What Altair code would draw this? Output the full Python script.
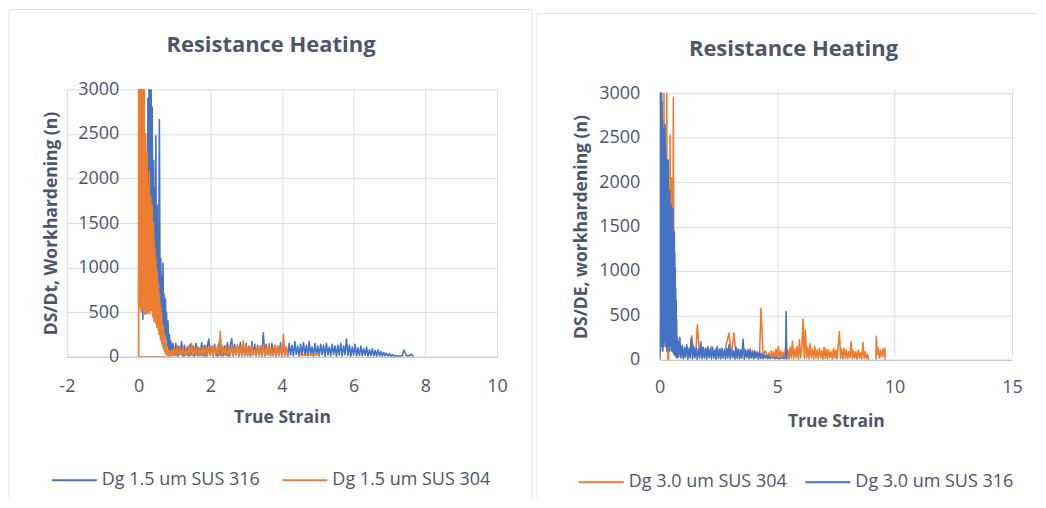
import altair as alt
import pandas as pd

TITLE = "Resistance Heating"
FONT = "Open Sans"
TEXT = "#4d5668"
GRID = "#d9dce3"
AXIS = "#bfc3cc"
FRAME = "#e0e2e6"
BLUE = "#4472C4"
ORANGE = "#ED7D31"

Y_TICKS = [0, 500, 1000, 1500, 2000, 2500, 3000]

# ---------------- Left chart: Dg 1.5 um ----------------
L_NAMES = ["Dg 1.5 um SUS 316", "Dg 1.5 um SUS 304"]
L_X_TICKS = [-2, 0, 2, 4, 6, 8, 10]

# strain readings of the tail region (left chart)
L_TAIL_X = [1.00,1.04,1.08,1.12,1.16,1.20,1.24,1.28,1.32,1.36,
            1.40,1.44,1.48,1.52,1.56,1.60,1.64,1.68,1.72,1.76,
            1.80,1.84,1.88,1.92,1.96,2.00,2.04,2.08,2.12,2.16,
            2.20,2.24,2.28,2.32,2.36,2.40,2.44,2.48,2.52,2.56,
            2.60,2.64,2.68,2.72,2.76,2.80,2.84,2.88,2.92,2.96,
            3.00,3.04,3.08,3.12,3.16,3.20,3.24,3.28,3.32,3.36,
            3.40,3.44,3.48,3.52,3.56,3.60,3.64,3.68,3.72,3.76,
            3.80,3.84,3.88,3.92,3.96,4.00,4.04,4.08,4.12,4.16,
            4.20,4.24,4.28,4.32,4.36,4.40,4.44,4.48,4.52,4.56,
            4.60,4.64,4.68,4.72,4.76,4.80,4.84,4.88,4.92,4.96,
            5.00,5.04,5.08,5.12,5.16,5.20,5.24,5.28,5.32,5.36,
            5.40,5.44,5.48,5.52,5.56,5.60,5.64,5.68,5.72,5.76,
            5.80,5.84,5.88,5.92,5.96,6.00,6.04,6.08,6.12,6.16,
            6.20,6.24,6.28,6.32,6.36,6.40,6.44,6.48,6.52,6.56,
            6.60,6.64,6.68,6.72,6.76,6.80,6.84,6.88,6.92,6.96,
            7.00,7.04,7.08,7.12,7.16,7.20,7.24,7.28,7.32,7.36,
            7.40,7.44,7.48,7.52,7.56,7.60,7.64,7.68]

L316_head_x = [0.00,0.02,0.03,0.05,0.06,0.08,0.09,0.11,0.12,0.14,0.15,0.17,0.18,0.20,0.21,0.23,0.24,0.26,0.27,0.29,
               0.30,0.31,0.33,0.35,0.36,0.38,0.40,0.42,0.43,0.45,0.47,0.48,0.50,0.52,0.53,0.55,0.56,0.58,0.60,0.62,
               0.63,0.65,0.66,0.68,0.70,0.71,0.73,0.75,0.77,0.78,0.80,0.82,0.84,0.86,0.88,0.90,0.93,0.96]
L316_head_y = [600,2200,900,3000,560,2600,700,3000,420,1900,600,2400,480,1800,700,2300,600,2900,800,3000,
               1500,3000,1200,3000,900,2800,1100,2200,800,1900,700,2480,900,1700,600,1400,700,2660,600,1100,
               450,900,400,1050,350,700,250,650,200,500,120,400,80,250,60,180,40,150]
L316_tail_y = [20,150,10,120,30,170,5,130,20,110,
               10,140,25,120,5,150,15,100,20,160,
               10,130,5,110,200,20,120,10,140,25,
               5,150,20,130,10,120,15,160,5,130,
               205,10,140,25,120,5,160,20,130,10,
               150,15,120,5,170,20,140,10,130,25,
               120,5,270,15,140,20,110,10,150,25,
               130,5,120,20,160,10,140,25,110,5,
               150,20,130,10,170,25,120,5,140,15,
               160,20,130,10,170,25,110,5,150,20,
               120,10,140,25,130,5,150,20,110,10,
               140,25,120,5,130,20,150,10,120,25,
               200,15,130,5,110,20,140,10,100,15,
               120,10,90,20,110,5,80,15,90,10,
               70,5,80,10,60,5,50,10,40,5,
               35,5,25,3,15,5,10,8,10,12,
               75,40,10,15,10,30,15,0]

L304_head_x = [0.78,0.00,0.00,
               0.01,0.02,0.03,0.04,0.05,0.06,0.07,0.08,0.09,0.10,0.11,0.12,0.13,0.14,0.15,0.16,0.17,0.18,0.19,0.20,
               0.21,0.22,0.23,0.24,0.25,0.26,0.27,0.28,0.29,0.30,0.31,0.32,0.33,0.34,0.35,0.36,0.37,0.38,0.39,0.40,
               0.41,0.42,0.43,0.44,0.45,0.46,0.47,0.48,0.49,0.50,0.51,0.52,0.53,0.54,0.55,0.56,0.57,0.58,0.59,0.60,
               0.61,0.62,0.63,0.64,0.65,0.66,0.67,0.68,0.69,0.70,0.71,0.72,0.73,0.74,0.75,0.76,0.77,0.78,0.79,0.80,
               0.82,0.84,0.86,0.88,0.90,0.93,0.96]
L304_head_y = [0,0,3000,
               600,3000,550,3000,650,3000,500,3000,700,3000,550,3000,600,2800,500,3000,650,2200,500,2500,
               600,1900,480,2300,700,1700,500,1900,650,2080,480,1600,700,1800,520,1500,600,1700,450,1400,
               550,1500,400,1300,500,1200,380,1100,420,1000,330,950,350,850,300,800,250,700,260,600,
               200,550,180,480,150,400,120,350,100,300,80,250,60,200,40,160,30,120,20,90,
               10,70,5,60,10,80,5]
L304_tail_y = [100,10,120,5,90,20,110,5,80,15,
               120,5,150,10,100,20,120,5,90,15,
               110,5,130,10,100,20,120,5,110,15,
               120,10,285,5,110,20,130,10,90,15,
               120,5,100,20,140,10,110,5,180,15,
               130,10,110,5,130,20,90,10,120,5,
               100,15,140,5,110,20,150,10,90,5,
               130,20,120,10,110,5,250,10,110,20]
L304_end_x = [4.18]
L304_end_y = [0]
L304b_x = [4.48,4.50,4.56,4.95,5.02,5.04]
L304b_y = [0,30,20,20,30,0]

# ---------------- Right chart: Dg 3.0 um ----------------
R_NAMES = ["Dg 3.0 um SUS 304", "Dg 3.0 um SUS 316"]
R_X_TICKS = [0, 5, 10, 15]

R304_head_x = [0.00,0.02,0.04,0.06,0.08,0.10,0.12,0.14,0.16,0.18,0.20,0.22,0.24,0.26,0.28,0.30,0.32,0.34,0.38,0.40,
               0.42,0.44,0.46,0.48,0.50,0.52,0.54,0.56,0.58,0.60,0.62,0.64,0.66,0.68,0.70,0.72,0.76,0.80,0.85,0.88,
               0.95,1.05,1.15,1.25,1.36,1.45,1.55,1.60,1.70,1.80,1.90,2.00,2.10,2.20,2.30,2.40,2.50,2.60,2.70,2.80,
               2.95,3.05,3.16,3.25,3.35,3.45,3.55,3.65,3.75,3.85,3.95,4.05,4.15,4.25,4.31,4.40,4.50]
R304_head_y = [0,500,200,520,300,450,100,500,250,3000,400,1800,300,2600,500,3000,200,0,0,1500,
               800,2530,1300,1700,2050,1200,1600,900,2950,700,1000,300,500,100,250,50,120,30,250,40,
               120,30,150,40,270,60,130,393,50,140,30,120,60,150,40,130,50,120,30,140,
               300,50,300,40,120,30,150,50,120,30,110,20,90,40,580,60,100]
R304_tail_x = [4.60,4.65,4.70,4.75,4.80,4.85,4.90,4.95,5.00,5.05,
               5.10,5.15,5.20,5.25,5.30,5.35,5.40,5.45,5.50,5.55,
               5.60,5.65,5.70,5.75,5.80,5.85,5.90,5.95,6.00,6.05,
               6.10,6.15,6.20,6.25,6.30,6.35,6.40,6.45,6.50,6.55,
               6.60,6.65,6.70,6.75,6.80,6.85,6.90,6.95,7.00,7.05,
               7.10,7.15,7.20,7.25,7.30,7.35,7.40,7.45,7.50,7.55,
               7.60,7.65,7.70,7.75,7.80,7.85,7.90,7.95,8.00,8.05,
               8.10,8.15,8.20,8.25,8.30,8.35,8.40,8.45,8.50,8.55,
               8.60,8.65,8.70,8.75,8.80,8.85,8.90]
R304_tail_y = [20,80,10,100,30,90,5,120,20,150,
               10,100,25,90,5,130,20,110,10,140,
               20,210,10,120,30,150,5,225,20,130,
               460,15,335,20,140,10,180,25,120,5,
               150,20,110,10,130,25,100,5,140,15,
               120,10,110,25,90,5,130,20,110,10,
               170,318,15,120,5,130,20,110,10,90,
               25,205,10,100,20,90,5,110,15,80,
               10,195,20,90,10,60,0]
R304b_x = [9.20,9.22,9.26,9.30,9.35,9.40,9.45,9.50,9.55,9.58,9.60]
R304b_y = [0,265,60,130,20,110,30,120,40,130,0]

R316_head_x = [0.00,0.00,
               0.01,0.02,0.03,0.04,0.05,0.06,0.07,0.08,0.09,0.10,0.11,0.12,0.13,0.14,0.15,0.16,0.17,0.18,0.19,0.20,
               0.21,0.22,0.23,0.24,0.25,0.26,0.27,0.28,0.29,0.30,0.31,0.32,0.33,0.34,0.35,0.36,0.37,0.38,0.39,0.40,
               0.41,0.42,0.43,0.44,0.45,0.46,0.47,0.48,0.49,0.50,0.51,0.52,0.53,0.54,0.55,0.56,0.57,0.58,0.59,0.60,
               0.61,0.62,0.63,0.64,0.65,0.66,0.67,0.68,0.69,0.70,0.71,0.72,0.73,0.74,0.76,0.78,0.80,0.83]
R316_head_y = [0,3000,
               200,3000,100,3000,300,3000,150,3000,400,2900,200,2700,100,2500,300,2600,150,2400,400,2550,
               200,2650,300,2400,150,2300,350,2200,200,2250,100,2100,300,2000,150,2250,400,1900,200,1800,
               100,1900,300,1700,150,1600,250,1750,100,1500,200,1700,100,1400,150,1700,80,1300,120,1100,
               60,1440,90,1200,50,1040,80,800,40,670,30,450,20,255,30,200,40,220]
R316_mid_x = [0.85,0.90,0.95,1.00,1.05,1.10,1.15,1.20,1.25,1.30,
              1.35,1.40,1.45,1.50,1.55,1.60,1.65,1.70,1.75,1.80,
              1.85,1.90,1.95,2.00,2.05,2.10,2.15,2.20,2.25,2.30,
              2.35,2.40,2.45,2.50,2.55,2.60,2.65,2.70,2.75,2.80,
              2.85,2.90,2.95,3.00,3.05,3.10,3.15,3.20,3.25,3.30,
              3.35,3.40,3.45,3.50,3.55,3.60,3.65,3.70,3.75,3.80,
              3.85,3.90,3.95,4.00,4.05,4.10,4.15,4.20,4.25,4.30,
              4.35,4.40,4.45,4.50,4.55,4.60,4.65]
R316_mid_y = [247,20,160,10,140,30,170,5,130,20,
              240,10,150,25,130,5,120,20,200,10,
              140,20,130,5,150,25,120,10,140,20,
              110,5,150,15,120,10,130,20,110,5,
              130,20,170,10,120,25,100,5,140,15,
              120,10,110,20,230,5,110,25,100,10,
              120,20,90,10,100,25,80,5,90,15,
              70,10,60,20,50,10,40]
R316_tail_x = [4.75,4.90,5.05,5.20,5.36,5.38,5.41]
R316_tail_y = [20,25,15,20,20,540,0]


def series_df(name, segments):
    rows = []
    i = 0
    for s, (xs, ys) in enumerate(segments):
        for x, y in zip(xs, ys):
            rows.append({"strain": x, "n": y, "series": name, "seg": s, "i": i})
            i += 1
    return pd.DataFrame(rows)


def rule(x, y, x2=None, y2=None, color=FRAME):
    enc = {"x": alt.value(x), "y": alt.value(y)}
    if x2 is not None:
        enc["x2"] = alt.value(x2)
    if y2 is not None:
        enc["y2"] = alt.value(y2)
    return alt.Chart(alt.Data(values=[{}])).mark_rule(color=color, strokeWidth=1).encode(**enc)


def panel(layers_data, names, colors, x_dom, x_ticks, y_range, y_title, y_offset, y_title_x,
          y_title_y, x_lab_pad, x_title_y, leg_x, leg_y, col_pad, w, h, title_dx, title_off, frames):
    xs = alt.Scale(domain=x_dom, nice=False, zero=False)
    ys = alt.Scale(domain=[0, 3000], nice=False, range=y_range)
    xaxis = alt.Axis(values=x_ticks, title="True Strain", grid=True, gridColor=GRID, gridWidth=1,
                     domain=True, domainColor=AXIS, domainWidth=1, ticks=False, tickSize=0,
                     labelPadding=x_lab_pad, labelFlush=False, labelExpr="datum.value + ''",
                     labelFont=FONT, labelFontSize=18, labelColor=TEXT, titleFont=FONT,
                     titleFontSize=17.5, titleFontWeight="bold", titleColor=TEXT, titleY=x_title_y)
    yaxis = alt.Axis(values=Y_TICKS, title=y_title, grid=True, gridColor=GRID, gridWidth=1,
                     domain=False, ticks=False, tickSize=0, labelPadding=20, offset=y_offset,
                     labelExpr="datum.value + ''",
                     labelFont=FONT, labelFontSize=18, labelColor=TEXT, titleFont=FONT,
                     titleFontSize=17.5, titleFontWeight="bold", titleColor=TEXT,
                     titleX=y_title_x, titleY=y_title_y)
    legend = alt.Legend(title=None, orient="none", legendX=leg_x, legendY=leg_y,
                        direction="horizontal", symbolType="stroke", symbolSize=2025,
                        symbolStrokeWidth=2, labelFont=FONT, labelFontSize=18, labelColor=TEXT,
                        labelOffset=4, columnPadding=col_pad, padding=0)
    lines = []
    for df in layers_data:
        lines.append(
            alt.Chart(df).mark_line(strokeWidth=1.6, clip=True, strokeJoin="round").encode(
                x=alt.X("strain:Q", scale=xs, axis=xaxis),
                y=alt.Y("n:Q", scale=ys, axis=yaxis),
                color=alt.Color("series:N", scale=alt.Scale(domain=names, range=colors), legend=legend),
                detail="seg:N",
                order="i:Q",
            )
        )
    return alt.layer(*frames, *lines).properties(
        width=w, height=h,
        title=alt.TitleParams(TITLE, font=FONT, fontSize=22, fontWeight="bold", color=TEXT,
                              anchor="middle", frame="group", dx=title_dx, offset=title_off),
    )


left_blue = series_df(L_NAMES[0], [(L316_head_x + L_TAIL_X, L316_head_y + L316_tail_y)])
left_orange = series_df(L_NAMES[1], [
    (L304_head_x + L_TAIL_X[:80] + L304_end_x, L304_head_y + L304_tail_y + L304_end_y),
    (L304b_x, L304b_y),
])
right_orange = series_df(R_NAMES[0], [
    (R304_head_x + R304_tail_x, R304_head_y + R304_tail_y),
    (R304b_x, R304b_y),
])
right_blue = series_df(R_NAMES[1], [
    (R316_head_x + R316_mid_x + R316_tail_x, R316_head_y + R316_mid_y + R316_tail_y),
])

left_frames = [rule(-58, -80, x2=466), rule(-58, -80, y2=409), rule(466, -80, y2=409)]
right_frames = [rule(-123, -76, x2=378), rule(-123, -76, y2=409)]

left = panel([left_blue, left_orange], L_NAMES, [BLUE, ORANGE], [-2, 10], L_X_TICKS, [268, 0],
             "DS/Dt, Workhardening (n)", -72, -78, 134, 20.5, 52, -16, 368, 18, 431, 268, -11, -48,
             left_frames)
right = panel([right_orange, right_blue], R_NAMES, [ORANGE, BLUE], [0, 15], R_X_TICKS, [271, 4],
              "DS/DE, workhardening (n)", 0, -69, 137.5, 19, 53, -82, 370, 14, 353, 271, -42.5, -48,
              right_frames)

chart = alt.hconcat(left, right, spacing=3).resolve_scale(
    x="independent", y="independent", color="independent"
).resolve_legend(color="independent").properties(padding=0, background="white").configure_view(
    strokeWidth=0
)

chart.save("out.html", embed_options={"renderer": "svg", "actions": False})
